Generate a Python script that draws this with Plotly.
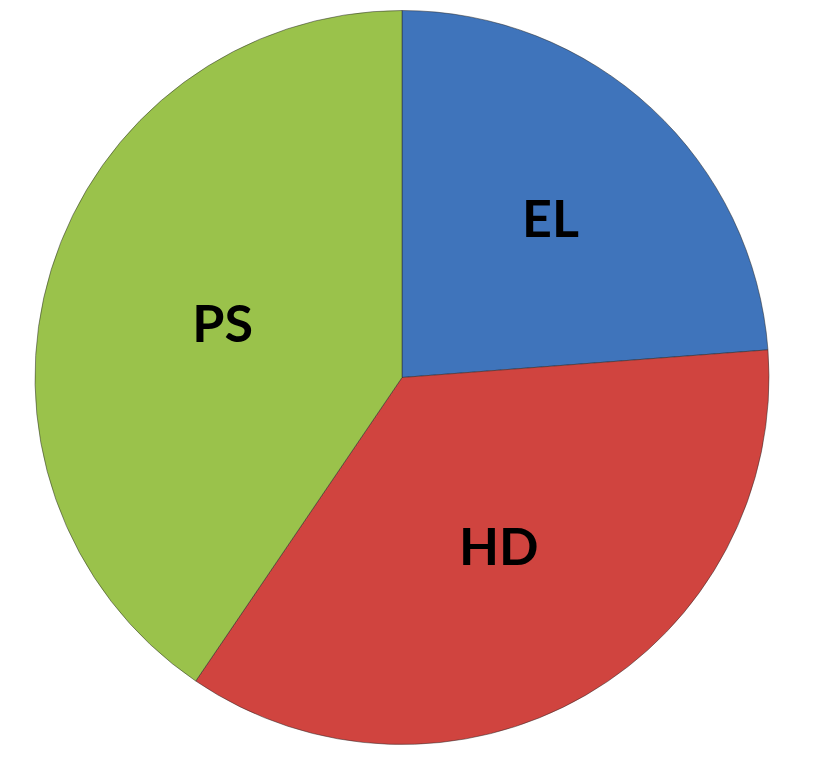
import plotly.graph_objects as go

labels = ["EL", "HD", "PS"]
values = [23.8, 35.7, 40.5]
colors = ["#3f74bb", "#d0443f", "#9ac24b"]

W, H = 815, 761
cx, cy, r = 402, 377.5, 367

fig = go.Figure(go.Pie(
    labels=labels,
    values=values,
    sort=False,
    direction="clockwise",
    rotation=0,
    marker=dict(colors=colors, line=dict(color="rgba(40,40,40,0.5)", width=1)),
    textinfo="label",
    textposition="inside",
    insidetextorientation="horizontal",
    textfont=dict(family="Lato", size=52, color="black", weight="bold"),
    domain=dict(x=[(cx - r) / W, (cx + r) / W], y=[1 - (cy + r) / H, 1 - (cy - r) / H]),
    showlegend=False,
    hoverinfo="label+value",
))

fig.update_layout(
    width=W, height=H,
    margin=dict(l=0, r=0, t=0, b=0),
    paper_bgcolor="white",
    plot_bgcolor="white",
)

fig.write_html("out.html")
